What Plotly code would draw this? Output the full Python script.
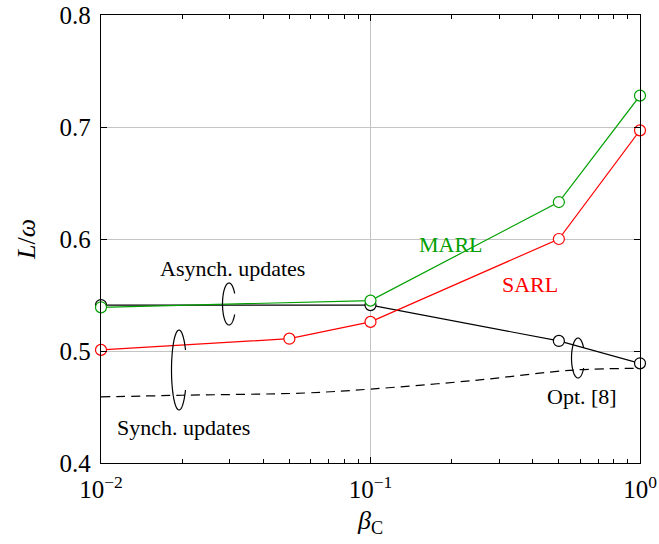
import numpy as np
import plotly.graph_objects as go

# ---- data ----
marl_x = [0.01, 0.1, 0.5, 1.0]
marl_y = [0.539, 0.545, 0.633, 0.728]
sarl_x = [0.01, 0.05, 0.1, 0.5, 1.0]
sarl_y = [0.501, 0.511, 0.526, 0.600, 0.697]
opt_x = [0.01, 0.1, 0.5, 1.0]
opt_y = [0.541, 0.541, 0.509, 0.489]
sync_x = [0.01, 0.02, 0.057, 0.1, 0.24, 0.57, 1.0]
sync_y = [0.459, 0.4605, 0.4625, 0.466, 0.4736, 0.483, 0.4845]
xtick_vals = [0.01, 0.1, 1.0]
xtick_text = ["10<sup>\u22122</sup>", "10<sup>\u22121</sup>", "10<sup>0</sup>"]
ytick_vals = [0.4, 0.5, 0.6, 0.7, 0.8]

W, H = 659, 544
L, R, T, B = 101, 19, 15, 81
FONT = "Liberation Serif"
GREEN = "#00a000"
RED = "#ff0000"

fig = go.Figure()

def add(x, y, color, dash="solid", markers=True, shape="linear"):
    fig.add_trace(go.Scatter(
        x=x, y=y, mode="lines+markers" if markers else "lines",
        line=dict(color=color, width=1.2, dash=dash, shape=shape),
        marker=dict(symbol="circle", size=11, color="white",
                    line=dict(color=color, width=1.2)),
        showlegend=False, cliponaxis=False))

add(sync_x, sync_y, "black", dash="9px,6px", markers=False, shape="spline")
add(opt_x, opt_y, "black")
add(marl_x, marl_y, GREEN)
add(sarl_x, sarl_y, RED)

# ---- ellipse decorations (paper coords from pixel geometry) ----
pw, ph = W - L - R, H - T - B
def px2paper(px, py):
    return (px - L) / pw, (H - B - py) / ph

def arc(cx, cy, rx, ry, a0, a1, n=30):
    pts = []
    for a in np.linspace(np.radians(a0), np.radians(a1), n):
        pts.append(px2paper(cx + rx * np.cos(a), cy - ry * np.sin(a)))
    return "M " + " L ".join(f"{x:.5f},{y:.5f}" for x, y in pts)

def ring(cx, cy, rx, ry):
    for a0, a1 in [(90, 270), (30, 90), (-90, -30)]:
        fig.add_shape(type="path", xref="paper", yref="paper",
                      path=arc(cx, cy, rx, ry, a0, a1),
                      line=dict(color="black", width=1.2))

ring(229, 304, 6.5, 21)
ring(179, 370, 7.5, 40)
ring(578, 358, 6.5, 20)

def label(text, px, py, color="black", size=22):
    x, y = px2paper(px, py)
    fig.add_annotation(x=x, y=y, xref="paper", yref="paper", text=text,
                       showarrow=False, font=dict(family=FONT, size=size, color=color),
                       xanchor="center", yanchor="middle")

label("MARL", 451, 244, GREEN)
label("SARL", 530, 284, RED)
label("Asynch. updates", 232, 268)
label("Synch. updates", 183, 427)
label("Opt. [8]", 582, 396)

minor_x = [m * 10.0 ** e for e in (-2, -1) for m in range(2, 10)]

fig.update_layout(
    width=W, height=H,
    margin=dict(l=L, r=R, t=T, b=B),
    paper_bgcolor="white", plot_bgcolor="white",
    font=dict(family=FONT, size=25, color="black"),
    xaxis=dict(type="log", range=[-2, 0], tickvals=xtick_vals, ticktext=xtick_text,
               automargin=False,
               ticks="inside", ticklen=6, tickcolor="black", tickwidth=1,
               showline=True, linecolor="black", linewidth=1.3, mirror="ticks",
               showgrid=True, gridcolor="#c4c4c4", gridwidth=1,
               zeroline=False, ticklabelstandoff=4,
               minor=dict(tickvals=minor_x, ticks="inside", ticklen=4,
                          tickcolor="black", showgrid=False),
               title=dict(text="<i>β</i><sub>C</sub>", font=dict(size=26), standoff=8),
               tickfont=dict(size=25)),
    yaxis=dict(range=[0.4, 0.8], tickvals=ytick_vals,
               ticktext=[f"{v:.1f}" for v in ytick_vals],
               automargin=False,
               ticks="inside", ticklen=6, tickcolor="black",
               showline=True, linecolor="black", linewidth=1.3, mirror="ticks",
               showgrid=True, gridcolor="#c4c4c4", gridwidth=1, zeroline=False,
               ticklabelstandoff=4,
               title=dict(text="<i>L</i>/<i>ω</i>", font=dict(size=26), standoff=16),
               tickfont=dict(size=25)),
)

fig.write_html("out.html")
